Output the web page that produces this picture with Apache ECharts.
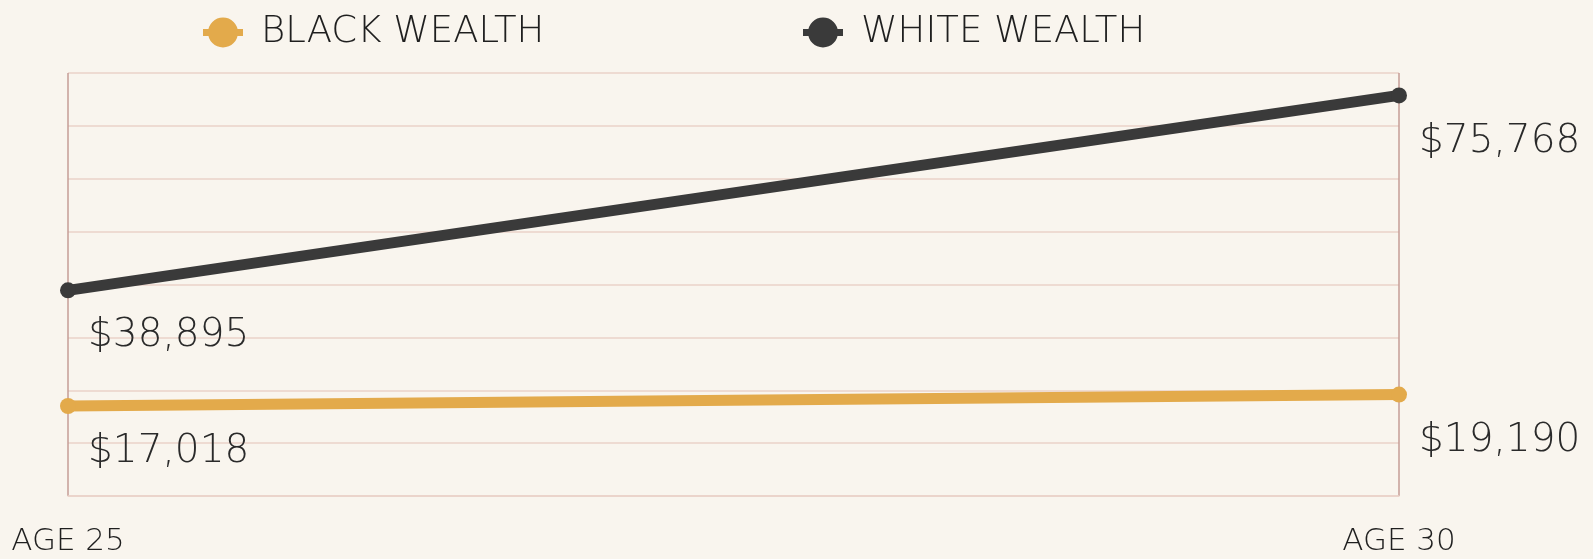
<!DOCTYPE html>
<html>
<head>
<meta charset="utf-8">
<script src="https://cdn.jsdelivr.net/npm/echarts@6/dist/echarts.min.js"></script>
<style>
  html, body { margin: 0; padding: 0; background: #f9f5ee; }
  #chart { width: 1593px; height: 559px; }
</style>
</head>
<body>
<div id="chart"></div>
<script>
// Ages compared
const categories = ['AGE 25', 'AGE 30'];
// Median wealth in dollars
const blackWealth = [17018, 19190];
const whiteWealth = [38895, 75768];

const FONT = "'DejaVu Sans', sans-serif";
const fmt = v => '$' + v.toLocaleString('en-US');

// Legend marker: a round dot sitting on a short thick bar
const MARKER = 'path://M0,12H40V19H0Z M35,15.5A15,15 0 1 1 5,15.5A15,15 0 1 1 35,15.5Z';

const chart = echarts.init(document.getElementById('chart'), null, { renderer: 'canvas' });

const valueLabel = {
  show: true,
  position: 'right',
  distance: 0,
  offset: [12, 46],
  align: 'left',
  verticalAlign: 'middle',
  color: '#2a2a2a',
  fontFamily: FONT,
  fontWeight: 200,
  fontSize: 39,
  formatter: p => fmt(p.value)
};

const legendBase = {
  top: 9,
  itemWidth: 40,
  itemHeight: 30,
  icon: MARKER,
  textStyle: {
    color: '#1f1f1f',
    fontFamily: FONT,
    fontWeight: 200,
    fontSize: 37,
    padding: [0, 0, 0, 13]
  }
};

chart.setOption({
  backgroundColor: '#f9f5ee',
  animation: false,
  legend: [
    Object.assign({ left: 198, data: ['BLACK WEALTH'] }, legendBase),
    Object.assign({ left: 798, data: ['WHITE WEALTH'] }, legendBase)
  ],
  grid: { left: 68, right: 194, top: 73, bottom: 63 },
  xAxis: {
    type: 'category',
    data: categories,
    boundaryGap: false,
    axisLine: { show: true, lineStyle: { color: '#ead2c9', width: 1.5 } },
    axisTick: { show: false },
    axisLabel: {
      color: '#1f1f1f',
      fontFamily: FONT,
      fontWeight: 200,
      fontSize: 31,
      margin: 30
    },
    splitLine: { show: true, lineStyle: { color: '#c59d96', width: 1.5 } }
  },
  yAxis: {
    type: 'value',
    min: 0,
    max: 80000,
    interval: 10000,
    axisLine: { show: false },
    axisTick: { show: false },
    axisLabel: { show: false },
    splitLine: { show: true, lineStyle: { color: '#ead2c9', width: 1.5 } }
  },
  series: [
    {
      name: 'BLACK WEALTH',
      type: 'line',
      data: blackWealth,
      symbol: 'circle',
      symbolSize: 16,
      color: '#e3aa4b',
      lineStyle: { width: 11, color: '#e3aa4b' },
      itemStyle: { color: '#e3aa4b' },
      label: valueLabel,
      z: 3
    },
    {
      name: 'WHITE WEALTH',
      type: 'line',
      data: whiteWealth,
      symbol: 'circle',
      symbolSize: 16,
      color: '#3a3a3a',
      lineStyle: { width: 11, color: '#3a3a3a' },
      itemStyle: { color: '#3a3a3a' },
      label: valueLabel,
      z: 4
    }
  ]
});
</script>
</body>
</html>
